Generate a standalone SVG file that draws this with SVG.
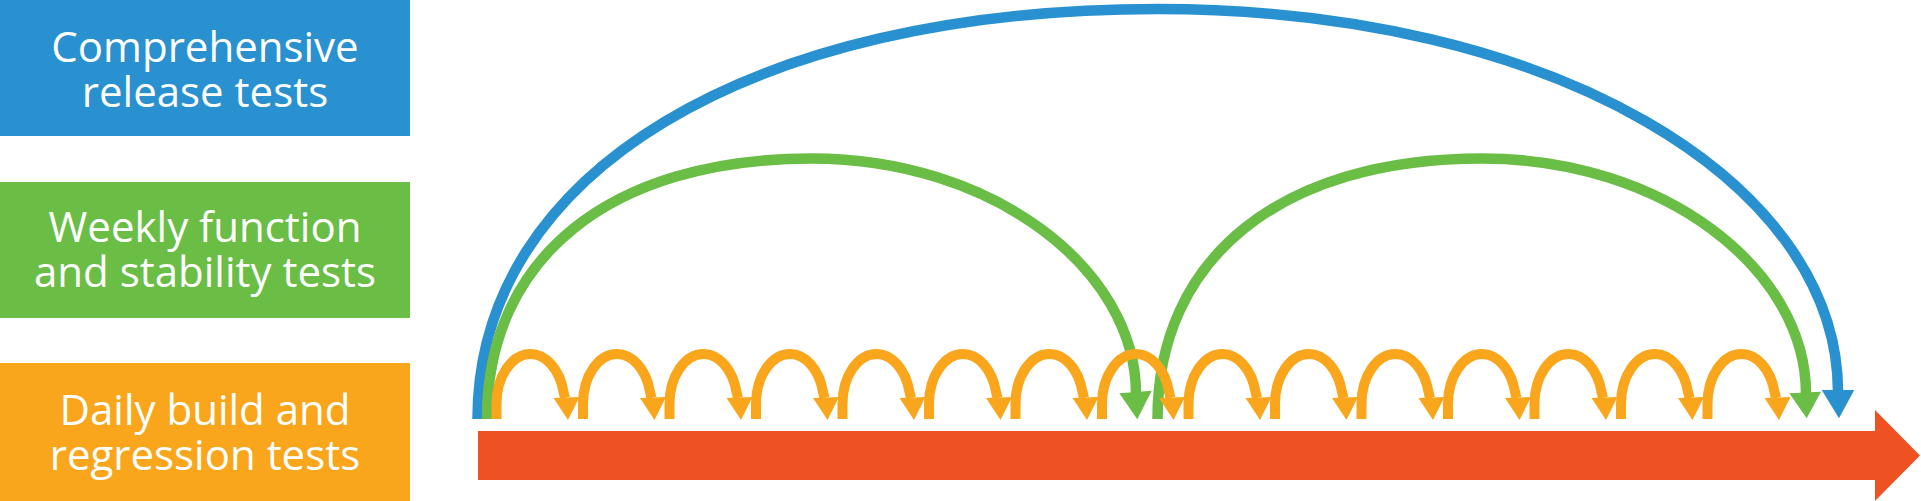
<svg xmlns="http://www.w3.org/2000/svg" width="1921" height="501" viewBox="0 0 1921 501">
<style>
.lbl{font-family:"Open Sans","Noto Sans","Liberation Sans",sans-serif;font-size:42px;fill:#ffffff;text-anchor:middle}
.arc{fill:none;stroke-width:10.5}
.blue{stroke:#2991D0}.bluef{fill:#2991D0}
.green{stroke:#6ABD45}.greenf{fill:#6ABD45}
.orange{stroke:#F9A61C;stroke-width:10}.orangef{fill:#F9A61C}
.redf{fill:#EE5223}
</style>
<defs>
<g id="daily">
<path class="arc orange" d="M0,419 V404 A34,50 0 0 1 34,354 A34,50 0 0 1 67,392 L68.5,398"/>
<polygon class="orangef" points="57,398 83,397 71.5,420"/>
</g>
</defs>
<g id="release-box">
<rect class="bluef" x="0" y="0" width="410" height="136"/>
<text class="lbl" x="205" y="62">Comprehensive</text>
<text class="lbl" x="205" y="107">release tests</text>
</g>
<g id="weekly-box">
<rect class="greenf" x="0" y="182" width="410" height="136"/>
<text class="lbl" x="205" y="242">Weekly function</text>
<text class="lbl" x="205" y="287">and stability tests</text>
</g>
<g id="daily-box">
<rect class="orangef" x="0" y="363" width="410" height="138"/>
<text class="lbl" x="205" y="425">Daily build and</text>
<text class="lbl" x="205" y="470">regression tests</text>
</g>
<g id="timeline">
<polygon class="redf" points="478,431 1875,431 1875,410 1920,455.5 1875,501 1875,480 478,480"/>
</g>
<g id="connectors">
<g id="release-arc">
<path class="arc blue" d="M477.5,419 C477.5,173 750,9 1158,9 C1552,9 1838,181 1838,392"/>
<polygon class="bluef" points="1821.7,390 1854.3,390 1839,418.3"/>
</g>
<g id="weekly-arc-1">
<path class="arc green" d="M487,419 C487,258 610,158.5 812,158.5 C991,158.5 1136,268 1136,394"/>
<polygon class="greenf" points="1119.3,393.3 1151.7,390.7 1137.3,419.3"/>
</g>
<g id="weekly-arc-2">
<path class="arc green" d="M1157.5,419 C1157.5,258 1280.5,158.5 1482.5,158.5 C1661.5,158.5 1806,268 1806,394"/>
<polygon class="greenf" points="1789.3,393.3 1821,391.7 1806.7,418.3"/>
</g>
<g id="daily-arcs">
<use href="#daily" x="496.5"/>
<use href="#daily" x="583"/>
<use href="#daily" x="669.5"/>
<use href="#daily" x="756"/>
<use href="#daily" x="842.5"/>
<use href="#daily" x="929"/>
<use href="#daily" x="1015.5"/>
<use href="#daily" x="1102"/>
<use href="#daily" x="1188.5"/>
<use href="#daily" x="1275"/>
<use href="#daily" x="1361.5"/>
<use href="#daily" x="1448"/>
<use href="#daily" x="1534.5"/>
<use href="#daily" x="1621"/>
<use href="#daily" x="1707.5"/>
</g>
</g>
</svg>
